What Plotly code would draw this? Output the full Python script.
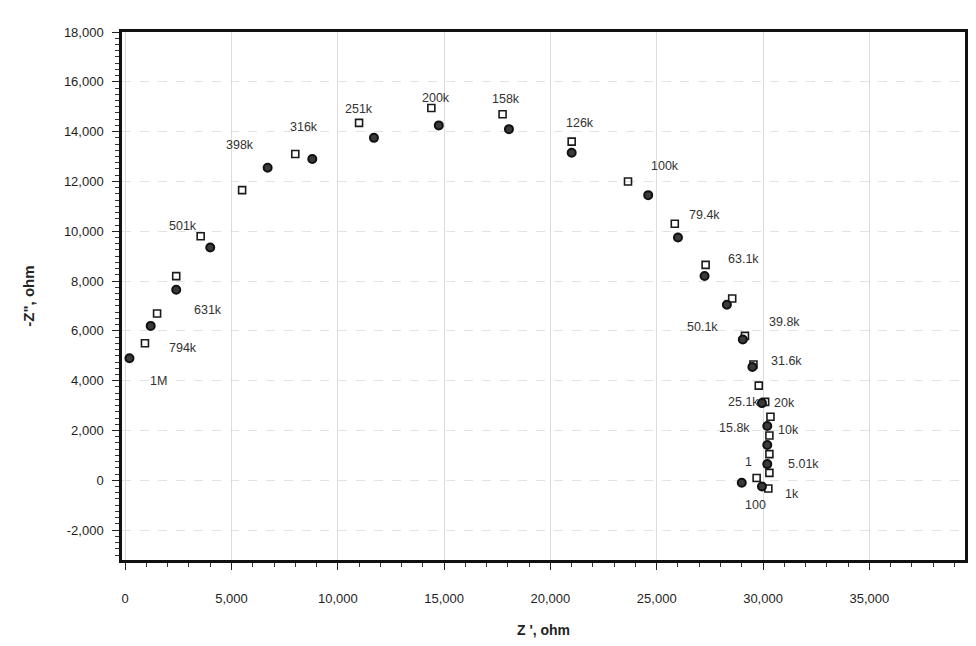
import plotly.graph_objects as go

# Impedance spectrum (Nyquist plot): real part Z' vs. negative imaginary part -Z''
# Open squares: first data set
sq_x = [930, 1500, 2400, 3550, 5500, 8000, 11000, 14400, 17750, 21000, 23650, 25850,
        27300, 28550, 29150, 29550, 29800, 30100, 30350, 30300, 30300, 30300, 30250, 29700]
sq_y = [5500, 6700, 8200, 9800, 11650, 13100, 14350, 14950, 14700, 13600, 12000, 10300,
        8650, 7300, 5800, 4650, 3800, 3150, 2550, 1800, 1050, 300, -330, 90]

# Filled circles: second data set
ci_x = [200, 1200, 2400, 4000, 6700, 8800, 11700, 14750, 18050, 21000, 24600, 26000,
        27250, 28300, 29050, 29500, 29950, 30200, 30200, 30200, 29000, 29950]
ci_y = [4900, 6200, 7650, 9350, 12550, 12900, 13750, 14250, 14100, 13150, 11450, 9750,
        8200, 7050, 5650, 4550, 3100, 2180, 1420, 650, -100, -250]

# Frequency labels (Hz)
freq_labels = ["1M", "794k", "631k", "501k", "398k", "316k", "251k", "200k", "158k",
               "126k", "100k", "79.4k", "63.1k", "50.1k", "39.8k", "31.6k", "25.1k",
               "20k", "15.8k", "10k", "1", "5.01k", "100", "1k"]
label_x = [1550, 2700, 3900, 2700, 5400, 8400, 11000, 14600, 17900, 21400, 25400, 27250,
           29100, 27150, 31000, 31100, 29100, 31000, 28650, 31200, 29300, 31900, 29650, 31350]
label_y = [4000, 5300, 6850, 10200, 13450, 14200, 14900, 15350, 15330, 14350, 12600, 10650,
           8900, 6150, 6350, 4800, 3150, 3100, 2100, 2000, 750, 650, -1000, -550]

# Axis ticks
x_ticks = [0, 5000, 10000, 15000, 20000, 25000, 30000, 35000]
x_tick_text = ["0", "5,000", "10,000", "15,000", "20,000", "25,000", "30,000", "35,000"]
y_ticks = [-2000, 0, 2000, 4000, 6000, 8000, 10000, 12000, 14000, 16000, 18000]
y_tick_text = ["-2,000", "0", "2,000", "4,000", "6,000", "8,000", "10,000",
               "12,000", "14,000", "16,000", "18,000"]

FONT = "Liberation Sans, Arial, sans-serif"

fig = go.Figure()
fig.add_trace(go.Scatter(
    x=sq_x, y=sq_y, mode="markers", name="squares",
    marker=dict(symbol="square-open", size=7, color="#1a1a1a", line=dict(width=1.6)),
))
fig.add_trace(go.Scatter(
    x=ci_x, y=ci_y, mode="markers", name="circles",
    marker=dict(symbol="circle", size=8, color="#3a3a3a", line=dict(color="#111", width=2)),
))

for t, lx, ly in zip(freq_labels, label_x, label_y):
    fig.add_annotation(x=lx, y=ly, text=t, showarrow=False,
                       font=dict(family=FONT, size=12.5, color="#333"))

axis_common = dict(
    showline=True, linecolor="#111", linewidth=2.5, mirror=True,
    ticks="outside", ticklen=7, tickwidth=1.2, tickcolor="#222",
    tickfont=dict(family=FONT, size=13, color="#1e1e1e"),
    zeroline=False,
)

fig.update_xaxes(
    **axis_common,
    range=[-150, 39500],
    tickvals=x_ticks, ticktext=x_tick_text,
    ticklabelstandoff=18,
    minor=dict(dtick=1000, ticks="outside", ticklen=4, tickcolor="#333", showgrid=False),
    showgrid=True, gridcolor="#dcdcdc", gridwidth=1,
    title=dict(text="<b>Z ', ohm</b>", font=dict(family=FONT, size=14, color="#222"), standoff=20),
)
fig.update_yaxes(
    **axis_common,
    range=[-3200, 18000],
    tickvals=y_ticks, ticktext=y_tick_text,
    ticklabelstandoff=6,
    minor=dict(dtick=250, ticks="outside", ticklen=4, tickcolor="#333", showgrid=False),
    showgrid=True, gridcolor="#e2e2e2", gridwidth=1, griddash="dash",
    title=dict(text="<b>-Z\", ohm</b>", font=dict(family=FONT, size=15, color="#222"), standoff=26),
)

fig.update_layout(
    width=976, height=646,
    margin=dict(l=122, r=8, t=32, b=86),
    paper_bgcolor="white", plot_bgcolor="white",
    showlegend=False,
)

fig.write_html("out.html")
